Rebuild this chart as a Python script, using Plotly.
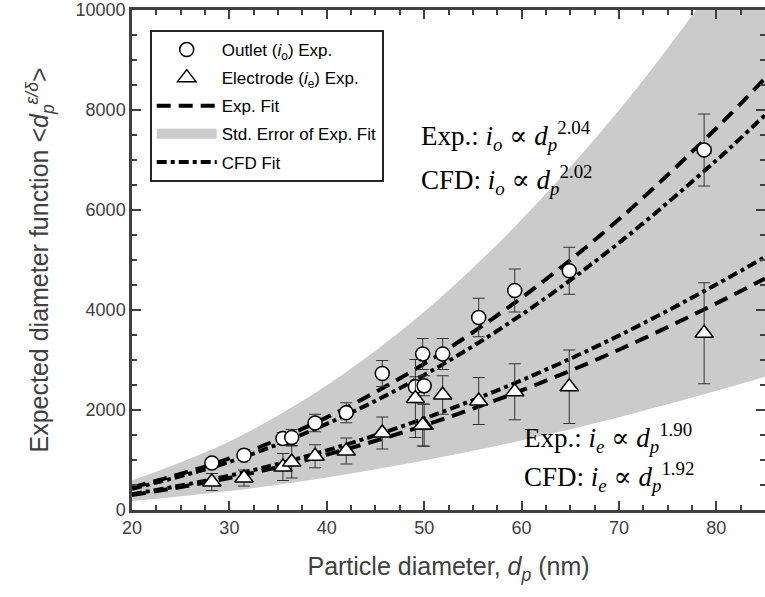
import plotly.graph_objects as go

# ---------------- data ----------------
dp_points = [28.2, 31.5, 35.5, 36.4, 38.8, 42.0, 45.7, 49.1, 50.0, 49.85, 51.9, 55.6, 59.3, 64.9, 78.75]
outlet_vals = [940, 1095, 1430, 1450, 1740, 1945, 2730, 2465, 2485, 3120, 3120, 3850, 4390, 4785, 7200]
outlet_err = [80, 100, 120, 160, 175, 200, 260, 200, 200, 310, 310, 385, 430, 470, 720]
outlet_xerr = [0, 0, 0, 0, 0, 0, 0, 0, 0, 0, 0, 0, 0, 0, 0.7]

electrode_vals = [560, 640, 860, 960, 1075, 1180, 1540, 2230, 1695, 1700, 2300, 2180, 2365, 2465, 3535]
electrode_err = [170, 160, 270, 320, 230, 260, 320, 780, 420, 420, 385, 470, 560, 735, 1010]

# fitted curves (read at regular diameters)
fit_dp = [20, 30, 40, 50, 60, 70, 80, 85]
exp_fit_outlet = [451, 1031, 1853, 2924, 4245, 5814, 7636, 8633]
cfd_fit_outlet = [425, 963, 1722, 2701, 3907, 5343, 6993, 7899]
exp_fit_electrode = [297, 641, 1107, 1690, 2391, 3205, 4132, 4630]
cfd_fit_electrode = [315, 686, 1192, 1830, 2595, 3488, 4510, 5062]

# standard-error band of the experimental fit
band_dp = [20, 30, 40, 50, 60, 70, 80, 85]
band_upper = [590, 1371, 2494, 3966, 5808, 7993, 10560, 12000]
band_lower = [178, 380, 651, 988, 1391, 1857, 2384, 2667]

x_ticks = [20, 30, 40, 50, 60, 70, 80]
y_ticks = [0, 2000, 4000, 6000, 8000, 10000]
y_ticktext = ["0", "2000", "4000", "6000", "8000", "10000"]

# ---------------- figure ----------------
AX = "#404040"
BAND = "#cbcbcb"
SANS = "Liberation Sans, Arial, sans-serif"
SERIF = "Liberation Serif, DejaVu Serif, serif"
fig = go.Figure()

# band
fig.add_trace(go.Scatter(x=band_dp, y=band_lower, mode="lines", line=dict(width=0, shape="spline"),
                         showlegend=False, hoverinfo="skip"))
fig.add_trace(go.Scatter(x=band_dp, y=band_upper, mode="lines", line=dict(width=0, shape="spline"),
                         fill="tonexty", fillcolor=BAND, showlegend=False, hoverinfo="skip"))
# legend swatch for the band
fig.add_trace(go.Scatter(x=[None], y=[None], mode="lines", line=dict(color=BAND, width=24),
                         name="Std. Error of Exp. Fit", legendgroup="g4", legendrank=4))

DASH = "14px,8px"
DASHDOT = "10px,4px,4px,4px"
fig.add_trace(go.Scatter(x=fit_dp, y=exp_fit_outlet, mode="lines",
                         line=dict(color="black", width=4, dash=DASH, shape="spline"),
                         name="Exp. Fit", legendgroup="g3", legendrank=3))
fig.add_trace(go.Scatter(x=fit_dp, y=exp_fit_electrode, mode="lines",
                         line=dict(color="black", width=4, dash=DASH, shape="spline"),
                         showlegend=False, legendgroup="g3"))
fig.add_trace(go.Scatter(x=fit_dp, y=cfd_fit_outlet, mode="lines",
                         line=dict(color="black", width=4, dash=DASHDOT, shape="spline"),
                         name="CFD Fit", legendgroup="g5", legendrank=5))
fig.add_trace(go.Scatter(x=fit_dp, y=cfd_fit_electrode, mode="lines",
                         line=dict(color="black", width=4, dash=DASHDOT, shape="spline"),
                         showlegend=False, legendgroup="g5"))

fig.add_trace(go.Scatter(x=dp_points, y=outlet_vals, mode="markers",
                         marker=dict(symbol="circle", size=14, color="white",
                                     line=dict(color="black", width=1.5)),
                         error_y=dict(type="data", array=outlet_err, color="#333333", thickness=1, width=6),
                         error_x=dict(type="data", array=outlet_xerr, color="#333333", thickness=1, width=4),
                         name="Outlet (<i>i</i><sub>o</sub>) Exp.", legendgroup="g1", legendrank=1))
fig.add_trace(go.Scatter(x=dp_points, y=electrode_vals, mode="markers",
                         marker=dict(symbol="triangle-up", size=16, color="white",
                                     line=dict(color="black", width=1.5)),
                         error_y=dict(type="data", array=electrode_err, color="#333333", thickness=1, width=6),
                         name="Electrode (<i>i</i><sub>e</sub>) Exp.", legendgroup="g2", legendrank=2))

ann = [
    (49.5, 7490, "Exp.: <i>i<sub>o</sub></i> ∝ <i>d<sub>p</sub></i><sup>2.04</sup>"),
    (49.5, 6610, "CFD: <i>i<sub>o</sub></i> ∝ <i>d<sub>p</sub></i><sup>2.02</sup>"),
    (60.0, 1440, "Exp.: <i>i<sub>e</sub></i> ∝ <i>d<sub>p</sub></i><sup>1.90</sup>"),
    (60.0, 660, "CFD: <i>i<sub>e</sub></i> ∝ <i>d<sub>p</sub></i><sup>1.92</sup>"),
]
for x, y, t in ann:
    fig.add_annotation(x=x, y=y, text=t, showarrow=False, xanchor="left", yanchor="middle",
                       font=dict(family=SERIF, size=27, color="black"))

axis_common = dict(showline=True, linecolor=AX, linewidth=2.5, mirror="ticks", ticks="inside",
                   ticklen=9, tickwidth=2, tickcolor=AX, showgrid=False, zeroline=False,
                   automargin=False, ticklabeloverflow="allow",
                   tickfont=dict(family=SANS, size=18, color=AX))

fig.update_xaxes(range=[20, 85], tickvals=x_ticks, **axis_common,
                 minor=dict(dtick=2.5, ticks="inside", ticklen=5, tickwidth=2, tickcolor=AX),
                 title=dict(text="Particle diameter, <i>d<sub>p</sub></i> (nm)", standoff=21,
                            font=dict(family=SANS, size=25, color=AX)))
fig.update_yaxes(range=[0, 10000.5], tickvals=y_ticks, ticktext=y_ticktext, **axis_common,
                 minor=dict(dtick=500, ticks="inside", ticklen=5, tickwidth=2, tickcolor=AX),
                 title=dict(text="Expected diameter function &lt;<i>d<sub>p</sub></i><sup><i>ε/δ</i></sup>&gt;",
                            standoff=20,
                            font=dict(family=SANS, size=25, color=AX)))

fig.update_layout(
    width=765, height=597,
    margin=dict(l=132, r=0, t=10, b=87),
    plot_bgcolor="white", paper_bgcolor="white",
    legend=dict(x=0.028, y=0.96, xanchor="left", yanchor="top",
                bgcolor="white", bordercolor="#262626", borderwidth=2,
                font=dict(family=SANS, size=17, color="black"),
                tracegroupgap=3, itemwidth=60, traceorder="grouped"),
)

# remove the default page margin so the figure sits at the window's top-left corner
fig.write_html("out.html", config={"displayModeBar": False},
               post_script="document.body.style.margin='0';")
